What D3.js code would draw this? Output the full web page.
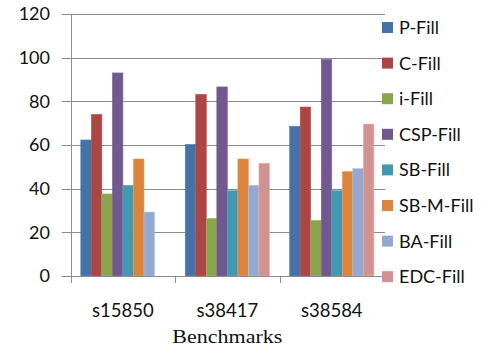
<!DOCTYPE html>
<html>
<head>
<meta charset="utf-8">
<script src="https://cdn.jsdelivr.net/npm/d3@7"></script>
<style>
  html, body { margin: 0; padding: 0; background: #fff; }
  svg { display: block; }
  text { font-family: Lato, "Open Sans", sans-serif; fill: #111; }
</style>
</head>
<body>
<svg id="chart" width="484" height="347"></svg>
<script>
// Benchmarks on the x axis, fill methods as series
const categories = ["s15850", "s38417", "s38584"];
const seriesNames = ["P-Fill", "C-Fill", "i-Fill", "CSP-Fill", "SB-Fill", "SB-M-Fill", "BA-Fill", "EDC-Fill"];
const seriesColors = ["#4572A7", "#AA4643", "#89A54E", "#71588F", "#4198AF", "#DB843D", "#93A9CF", "#D19392"];
const pFill   = [62.3, 60.3, 68.6];
const cFill   = [74.0, 83.2, 77.4];
const iFill   = [37.6, 26.4, 25.5];
const cspFill = [93.0, 86.6, 99.2];
const sbFill  = [41.5, 39.1, 39.1];
const sbmFill = [53.6, 53.6, 47.8];
const baFill  = [29.3, 41.5, 49.2];
const edcFill = [0, 51.6, 69.6];
const yTicks = [0, 20, 40, 60, 80, 100, 120];
const xTitle = "Benchmarks";

const seriesValues = [pFill, cFill, iFill, cspFill, sbFill, sbmFill, baFill, edcFill];

const svg = d3.select("#chart");
const plot = { left: 70.7, right: 384, top: 14, bottom: 276 };

const x = d3.scaleBand().domain(categories).range([plot.left, plot.right]).paddingInner(0).paddingOuter(0);
const xInner = d3.scaleBand().domain(seriesNames).range([0, x.bandwidth()]).paddingOuter(0.96).paddingInner(0);
const y = d3.scaleLinear().domain([0, 120]).range([plot.bottom, plot.top]);

const gridColor = "#8c8c8c";

// horizontal gridlines with left ticks
svg.append("g").selectAll("line").data(yTicks).join("line")
  .attr("x1", plot.left - 9).attr("x2", plot.right + 1)
  .attr("y1", d => Math.round(y(d)) + 0.5).attr("y2", d => Math.round(y(d)) + 0.5)
  .attr("stroke", gridColor).attr("stroke-width", 1);

// y tick labels
svg.append("g").selectAll("text").data(yTicks).join("text")
  .attr("x", 50).attr("y", d => y(d))
  .attr("dy", "0.36em")
  .attr("text-anchor", "end")
  .attr("font-size", 18)
  .text(d => d);

// bars
const groups = svg.append("g").selectAll("g").data(categories).join("g")
  .attr("transform", c => `translate(${x(c)},0)`);
groups.selectAll("rect")
  .data((c, ci) => seriesNames.map((s, si) => ({ s, si, v: seriesValues[si][ci] })).filter(d => d.v > 0))
  .join("rect")
  .attr("x", d => xInner(d.s))
  .attr("width", xInner.bandwidth())
  .attr("y", d => y(d.v))
  .attr("height", d => y(0) - y(d.v))
  .attr("fill", d => seriesColors[d.si])
  .attr("stroke", d => d3.color(seriesColors[d.si]).brighter(0.4))
  .attr("stroke-width", 0.6);

// y axis line
svg.append("line")
  .attr("x1", Math.round(plot.left) + 0.5).attr("x2", Math.round(plot.left) + 0.5)
  .attr("y1", plot.top).attr("y2", plot.bottom + 7)
  .attr("stroke", gridColor);

// x axis line and category ticks
svg.append("line")
  .attr("x1", plot.left - 9).attr("x2", plot.right + 1)
  .attr("y1", Math.round(y(0)) + 0.5).attr("y2", Math.round(y(0)) + 0.5)
  .attr("stroke", gridColor);
const boundaries = categories.slice(1).map(c => x(c));
svg.append("g").selectAll("line").data(boundaries).join("line")
  .attr("x1", d => Math.round(d) + 0.5).attr("x2", d => Math.round(d) + 0.5)
  .attr("y1", plot.bottom).attr("y2", plot.bottom + 7)
  .attr("stroke", gridColor);

// category labels
svg.append("g").selectAll("text").data(categories).join("text")
  .attr("x", c => x(c) + x.bandwidth() / 2)
  .attr("y", 317)
  .attr("text-anchor", "middle")
  .attr("font-size", 18.5)
  .text(c => c);

// axis title
svg.append("text")
  .attr("x", (plot.left + plot.right) / 2)
  .attr("y", 343)
  .attr("text-anchor", "middle")
  .style("font-family", "'Liberation Serif', 'Times New Roman', serif")
  .attr("font-size", 18)
  .attr("textLength", 110)
  .attr("lengthAdjust", "spacingAndGlyphs")
  .text(xTitle);

// legend
const legend = svg.append("g").selectAll("g").data(seriesNames).join("g")
  .attr("transform", (d, i) => `translate(382,${27.5 + i * 35.6})`);
legend.append("rect")
  .attr("x", 0).attr("y", -5.5).attr("width", 11).attr("height", 11)
  .attr("fill", (d, i) => seriesColors[i]);
legend.append("text")
  .attr("x", 17).attr("y", 0).attr("dy", "0.36em")
  .attr("font-size", 18)
  .text(d => d);
</script>
</body>
</html>
